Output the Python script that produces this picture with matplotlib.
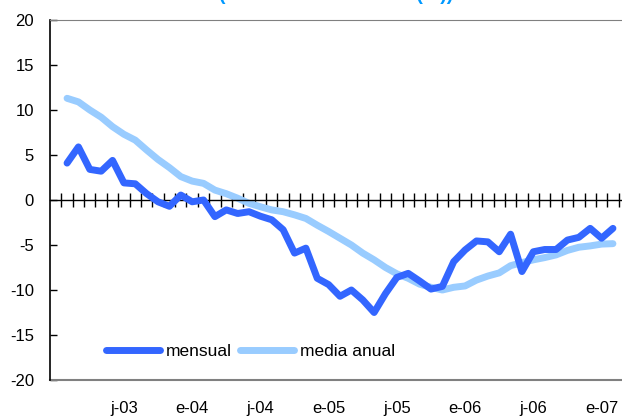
import matplotlib
matplotlib.use('Agg')
import matplotlib.pyplot as plt
import numpy as np

plt.rcParams['font.family'] = ['Liberation Sans', 'DejaVu Sans']
plt.rcParams['axes.unicode_minus'] = False

# meses: e-03 (indice 0) ... feb-07 (indice 49)
meses = np.arange(0, 50)
labels_pos = [6, 12, 18, 24, 30, 36, 42, 48]
labels = ['j-03', 'e-04', 'j-04', 'e-05', 'j-05', 'e-06', 'j-06', 'e-07']

# series desde f-03 (indice 1)
mensual = [4.1, 5.9, 3.4, 3.2, 4.4, 1.9, 1.8, 0.7, -0.2, -0.7, 0.55, -0.2, 0.0,
           -1.85, -1.1, -1.5, -1.3, -1.8, -2.2, -3.3, -5.9, -5.35, -8.7, -9.4,
           -10.7, -10.0, -11.1, -12.5, -10.4, -8.6, -8.15, -9.0, -9.9, -9.6,
           -6.85, -5.55, -4.55, -4.65, -5.75, -3.8, -7.95, -5.75, -5.5, -5.5,
           -4.45, -4.15, -3.15, -4.25, -3.15]
media_anual = [11.3, 10.9, 10.0, 9.2, 8.15, 7.3, 6.65, 5.55, 4.5, 3.6, 2.6, 2.1,
               1.85, 1.1, 0.7, 0.2, -0.37, -0.75, -1.1, -1.3, -1.65, -2.05, -2.8,
               -3.5, -4.25, -5.0, -5.9, -6.65, -7.5, -8.2, -8.7, -9.35, -9.7,
               -10.0, -9.7, -9.55, -8.9, -8.45, -8.1, -7.3, -6.95, -6.65, -6.4,
               -6.1, -5.6, -5.25, -5.1, -4.9, -4.85]

fig = plt.figure(figsize=(6.22, 4.16), dpi=100)
ax = fig.add_axes([50/622, 36/416, 580/622, 360/416])

x = meses[1:]
ax.plot(x, mensual, color='#3366ff', lw=5, solid_capstyle='round',
        solid_joinstyle='round', label='mensual', zorder=3)
ax.plot(x, media_anual, color='#99ccff', lw=5, solid_capstyle='round',
        solid_joinstyle='round', label='media anual', zorder=2)

ax.set_xlim(-0.5, 50.5)
ax.set_ylim(-20, 20)

# eje x en cero con marcas entre categorias
ax.spines['bottom'].set_position(('data', 0))
ax.spines['bottom'].set_color('black')
ax.spines['bottom'].set_linewidth(1)
ax.spines['left'].set_color('black')
ax.spines['left'].set_linewidth(1.2)
ax.spines['top'].set_color('#808080')
ax.spines['right'].set_visible(False)
ax.set_xticks(np.arange(0.5, 50, 1))
ax.tick_params(axis='x', direction='inout', length=10, width=1,
               labelbottom=False)
ax.axhline(-20, color='#808080', lw=1.5, clip_on=False)

ax.set_yticks(np.arange(-20, 21, 5))
ax.tick_params(axis='y', direction='in', length=5, width=1, pad=11.5,
               labelsize=12)

sec = ax.secondary_xaxis(0)
sec.spines['bottom'].set_visible(False)
sec.set_xticks(labels_pos)
sec.set_xticklabels(labels)
sec.tick_params(length=0, pad=15, labelsize=12)

ax.legend(loc='center left', bbox_to_anchor=(106/622, 1 - 351/416),
          bbox_transform=fig.transFigure, ncol=2, frameon=False,
          handlelength=3.1, handletextpad=0.35, columnspacing=0.45,
          borderpad=0, borderaxespad=0, fontsize=12.5)

fig.text(0.54, 1.0, '(Variación interanual (%))', color='#0099ff',
         fontsize=14, fontweight='bold', ha='center', va='baseline')

fig.savefig('out.png', dpi=100)
